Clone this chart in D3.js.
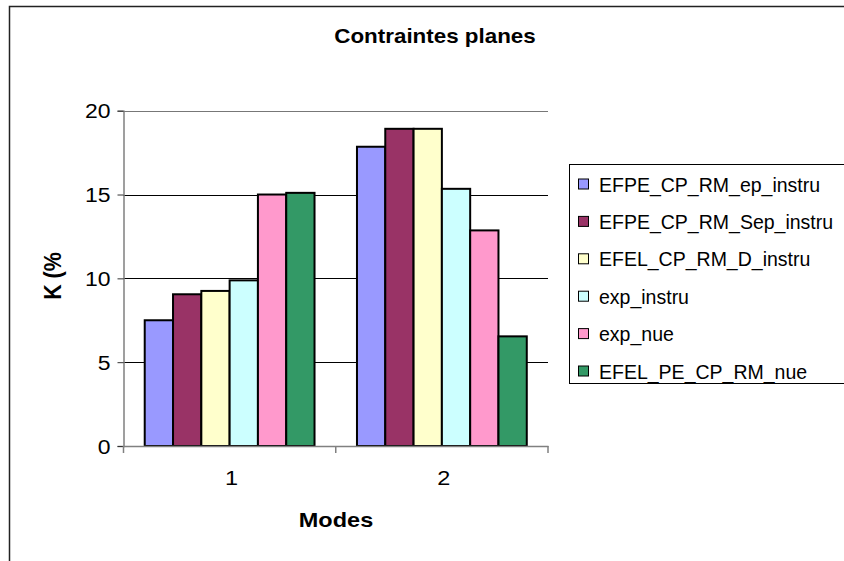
<!DOCTYPE html>
<html>
<head>
<meta charset="utf-8">
<script src="https://cdn.jsdelivr.net/npm/d3@7"></script>
<style>
  html, body { margin: 0; padding: 0; background: #fff; }
  svg { display: block; font-family: "Liberation Sans", Arial, sans-serif; }
</style>
</head>
<body>
<svg id="chart" width="844" height="561"></svg>
<script>
// ---- Data ----
const categories = ["1", "2"];
const seriesNames = [
  "EFPE_CP_RM_ep_instru",
  "EFPE_CP_RM_Sep_instru",
  "EFEL_CP_RM_D_instru",
  "exp_instru",
  "exp_nue",
  "EFEL_PE_CP_RM_nue"
];
const EFPE_CP_RM_ep_instru  = [7.5, 17.85];
const EFPE_CP_RM_Sep_instru = [9.05, 18.92];
const EFEL_CP_RM_D_instru   = [9.25, 18.92];
const exp_instru            = [9.88, 15.34];
const exp_nue               = [15.0, 12.86];
const EFEL_PE_CP_RM_nue     = [15.1, 6.54];
const seriesValues = [EFPE_CP_RM_ep_instru, EFPE_CP_RM_Sep_instru, EFEL_CP_RM_D_instru, exp_instru, exp_nue, EFEL_PE_CP_RM_nue];
const yTicks = [0, 5, 10, 15, 20];
const titleText = "Contraintes planes";
const xTitle = "Modes";
const yTitle = "K (%";

// ---- Styles ----
const colors = ["#9999FF", "#993366", "#FFFFCC", "#CCFFFF", "#FF99CC", "#339966"];
const SX = 1.12; // horizontal stretch of the original rendering

const svg = d3.select("#chart");

// outer chart border (extends past right/bottom edge)
svg.append("rect")
  .attr("x", 9.5).attr("y", 6.5).attr("width", 900).attr("height", 600)
  .attr("fill", "#fff").attr("stroke", "#222").attr("stroke-width", 1.5);

// plot geometry
const plot = { left: 123.5, right: 548, top: 110.7, bottom: 446 };

const x0 = d3.scaleBand().domain(categories).range([plot.left, plot.right]).paddingInner(0).paddingOuter(0);
const x1 = d3.scaleBand().domain(d3.range(seriesNames.length)).range([0, x0.bandwidth()]).paddingInner(0).paddingOuter(0.75);
const y = d3.scaleLinear().domain([0, 20]).range([plot.bottom, plot.top]);

// gridlines
svg.append("g").selectAll("line").data(yTicks.filter(d => d > 0)).join("line")
  .attr("x1", plot.left).attr("x2", plot.right)
  .attr("y1", d => Math.round(y(d)) + 0.5).attr("y2", d => Math.round(y(d)) + 0.5)
  .attr("stroke", d => d === 20 ? "#777" : "#000").attr("stroke-width", 1);

// bars
const flat = [];
categories.forEach((c, ci) => seriesValues.forEach((vals, si) => flat.push({ c, si, v: vals[ci] })));
svg.append("g").selectAll("rect").data(flat).join("rect")
  .attr("x", d => x0(d.c) + x1(d.si))
  .attr("y", d => y(d.v))
  .attr("width", x1.bandwidth())
  .attr("height", d => y(0) - y(d.v))
  .attr("fill", d => colors[d.si])
  .attr("stroke", "#000").attr("stroke-width", 2);

// y axis
const yAxis = svg.append("g").attr("transform", `translate(${plot.left},0)`)
  .call(d3.axisLeft(y).tickValues(yTicks).tickSize(6).tickPadding(8).tickFormat(d3.format("d")));
yAxis.select(".domain").attr("stroke", "#808080").attr("stroke-width", 1.5);
yAxis.selectAll(".tick line").attr("stroke", "#333");
yAxis.selectAll(".tick text")
  .attr("font-size", 20.5).attr("fill", "#000").attr("x", 0).attr("dy", null)
  .attr("dominant-baseline", "central")
  .attr("transform", `translate(-13,0) scale(${SX},1)`);

// x axis
const xAxis = svg.append("g").attr("transform", `translate(0,${plot.bottom})`)
  .call(d3.axisBottom(x0).tickSize(0).tickPadding(0));
xAxis.select(".domain").attr("stroke", "#808080").attr("stroke-width", 1.5);
xAxis.selectAll(".tick text")
  .attr("font-size", 21).attr("fill", "#000").attr("y", 0).attr("dy", null)
  .attr("transform", `translate(2,39) scale(${SX},1)`);
// category boundary ticks
xAxis.append("g").selectAll("line").data([plot.left, x0("2"), plot.right]).join("line")
  .attr("x1", d => d).attr("x2", d => d).attr("y1", 0).attr("y2", 7)
  .attr("stroke", "#808080").attr("stroke-width", 1.5);

// title
svg.append("text")
  .attr("transform", `translate(435,43) scale(${SX},1)`)
  .attr("text-anchor", "middle").attr("font-size", 20).attr("font-weight", "bold")
  .text(titleText);

// x axis title
svg.append("text")
  .attr("transform", `translate(336,527) scale(${SX},1)`)
  .attr("text-anchor", "middle").attr("font-size", 21).attr("font-weight", "bold")
  .text(xTitle);

// y axis title
svg.append("text")
  .attr("transform", `translate(61,276) scale(${SX},1) rotate(-90)`)
  .attr("text-anchor", "middle").attr("font-size", 21.5).attr("font-weight", "bold")
  .text(yTitle);

// legend
const legend = svg.append("g");
legend.append("rect")
  .attr("x", 569.5).attr("y", 164.5).attr("width", 400).attr("height", 219)
  .attr("fill", "#fff").attr("stroke", "#000").attr("stroke-width", 1);
const rowY = d3.scalePoint().domain(d3.range(seriesNames.length)).range([184.5, 371.5]);
const items = legend.selectAll("g.item").data(seriesNames).join("g").attr("class", "item")
  .attr("transform", (d, i) => `translate(0,${rowY(i)})`);
items.append("rect")
  .attr("x", 578.5).attr("y", -5.5).attr("width", 10).attr("height", 10)
  .attr("fill", (d, i) => colors[i]).attr("stroke", "#000").attr("stroke-width", 1);
items.append("text")
  .attr("transform", `translate(599,7)`)
  .attr("font-size", 19.5).attr("fill", "#000")
  .text(d => d);
</script>
</body>
</html>
